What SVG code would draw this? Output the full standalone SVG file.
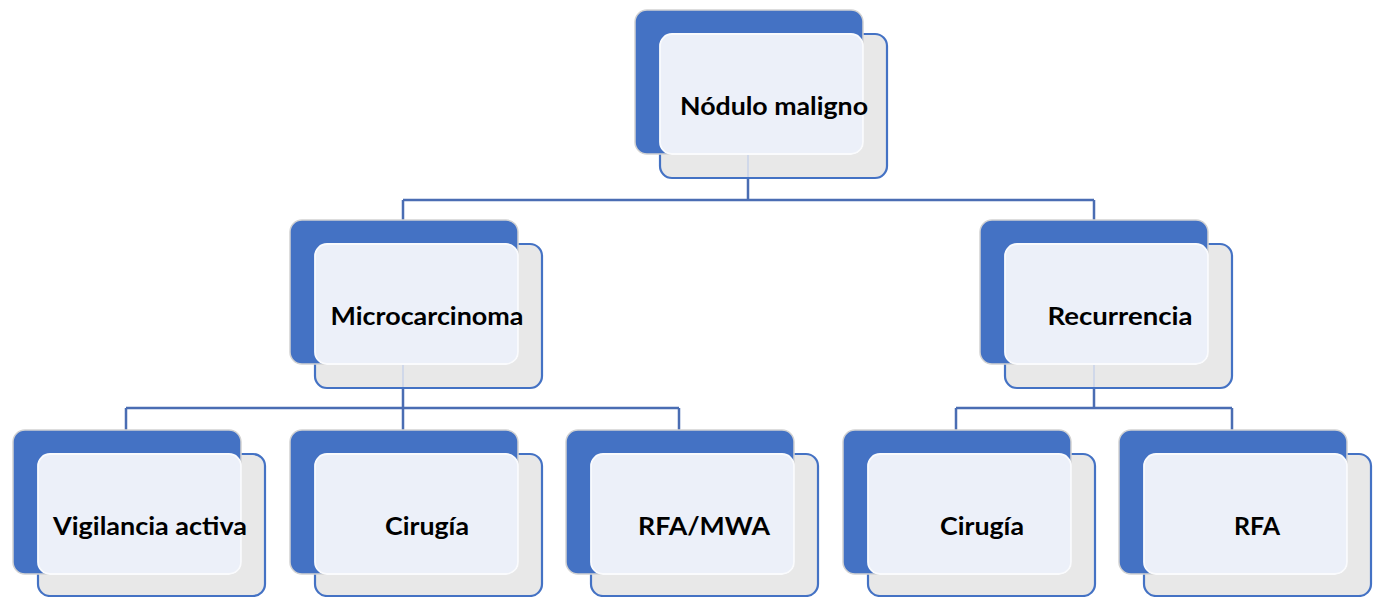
<svg xmlns="http://www.w3.org/2000/svg" width="1378" height="597" viewBox="0 0 1378 597">
  <style>
    .front { fill: #E8E8E8; stroke: #4472C4; stroke-width: 2.2; }
    .back { fill: #4472C4; stroke: #D2D2D2; stroke-width: 1.5; }
    .light { fill: #ECF0F9; stroke: #FAFBFD; stroke-width: 1.8; }
    .lbl { font-family: Lato, "Open Sans", "Liberation Sans", sans-serif; font-weight: bold; font-size: 25px; fill: #000; text-anchor: middle; }
    .conn { fill: none; stroke: #4A6DB3; stroke-width: 2.5; }
    .faint { stroke: #C9D3EA; stroke-width: 1.5; }
  </style>
  <rect width="1378" height="597" fill="#FFFFFF"/>

  <g id="connectors">
    <path class="conn" d="M748,178 V200 M403,200 H1094 M403,200 V220 M1094,200 V220"/>
    <path class="conn" d="M403,388 V408 M126,408 H679 M126,408 V430 M403,408 V430 M679,408 V430"/>
    <path class="conn" d="M1094,388 V408 M956,408 H1232 M956,408 V430 M1232,408 V430"/>
  </g>

  <g id="n-nodulo" transform="translate(635,10)">
    <rect class="front" x="25" y="24" width="227" height="144" rx="12"/>
    <rect class="back" x="0" y="0" width="228" height="144" rx="12"/>
    <rect class="light" x="25" y="24" width="203" height="120" rx="12"/>
    <line class="faint" x1="113" y1="145" x2="113" y2="167"/>
    <text class="lbl" x="139" y="105" textLength="188" lengthAdjust="spacingAndGlyphs">Nódulo maligno</text>
  </g>

  <g id="n-micro" transform="translate(290,220)">
    <rect class="front" x="25" y="24" width="227" height="144" rx="12"/>
    <rect class="back" x="0" y="0" width="228" height="144" rx="12"/>
    <rect class="light" x="25" y="24" width="203" height="120" rx="12"/>
    <line class="faint" x1="113" y1="145" x2="113" y2="167"/>
    <text class="lbl" x="137" y="105" textLength="193" lengthAdjust="spacingAndGlyphs">Microcarcinoma</text>
  </g>

  <g id="n-recur" transform="translate(980,220)">
    <rect class="front" x="25" y="24" width="227" height="144" rx="12"/>
    <rect class="back" x="0" y="0" width="228" height="144" rx="12"/>
    <rect class="light" x="25" y="24" width="203" height="120" rx="12"/>
    <line class="faint" x1="114" y1="145" x2="114" y2="167"/>
    <text class="lbl" x="140" y="105" textLength="145" lengthAdjust="spacingAndGlyphs">Recurrencia</text>
  </g>

  <g id="n-vigilancia" transform="translate(13,430)">
    <rect class="front" x="25" y="24" width="227" height="142" rx="12"/>
    <rect class="back" x="0" y="0" width="228" height="144" rx="12"/>
    <rect class="light" x="25" y="24" width="203" height="120" rx="12"/>
    <text class="lbl" x="137" y="105" textLength="194" lengthAdjust="spacingAndGlyphs">Vigilancia activa</text>
  </g>

  <g id="n-cirugia1" transform="translate(290,430)">
    <rect class="front" x="25" y="24" width="227" height="142" rx="12"/>
    <rect class="back" x="0" y="0" width="228" height="144" rx="12"/>
    <rect class="light" x="25" y="24" width="203" height="120" rx="12"/>
    <text class="lbl" x="137" y="105" textLength="84" lengthAdjust="spacingAndGlyphs">Cirugía</text>
  </g>

  <g id="n-rfamwa" transform="translate(566,430)">
    <rect class="front" x="25" y="24" width="227" height="142" rx="12"/>
    <rect class="back" x="0" y="0" width="228" height="144" rx="12"/>
    <rect class="light" x="25" y="24" width="203" height="120" rx="12"/>
    <text class="lbl" x="138" y="105" textLength="132" lengthAdjust="spacingAndGlyphs">RFA/MWA</text>
  </g>

  <g id="n-cirugia2" transform="translate(843,430)">
    <rect class="front" x="25" y="24" width="227" height="142" rx="12"/>
    <rect class="back" x="0" y="0" width="228" height="144" rx="12"/>
    <rect class="light" x="25" y="24" width="203" height="120" rx="12"/>
    <text class="lbl" x="139" y="105" textLength="84" lengthAdjust="spacingAndGlyphs">Cirugía</text>
  </g>

  <g id="n-rfa" transform="translate(1119,430)">
    <rect class="front" x="25" y="24" width="227" height="142" rx="12"/>
    <rect class="back" x="0" y="0" width="228" height="144" rx="12"/>
    <rect class="light" x="25" y="24" width="203" height="120" rx="12"/>
    <text class="lbl" x="138" y="105" textLength="46" lengthAdjust="spacingAndGlyphs">RFA</text>
  </g>
</svg>
